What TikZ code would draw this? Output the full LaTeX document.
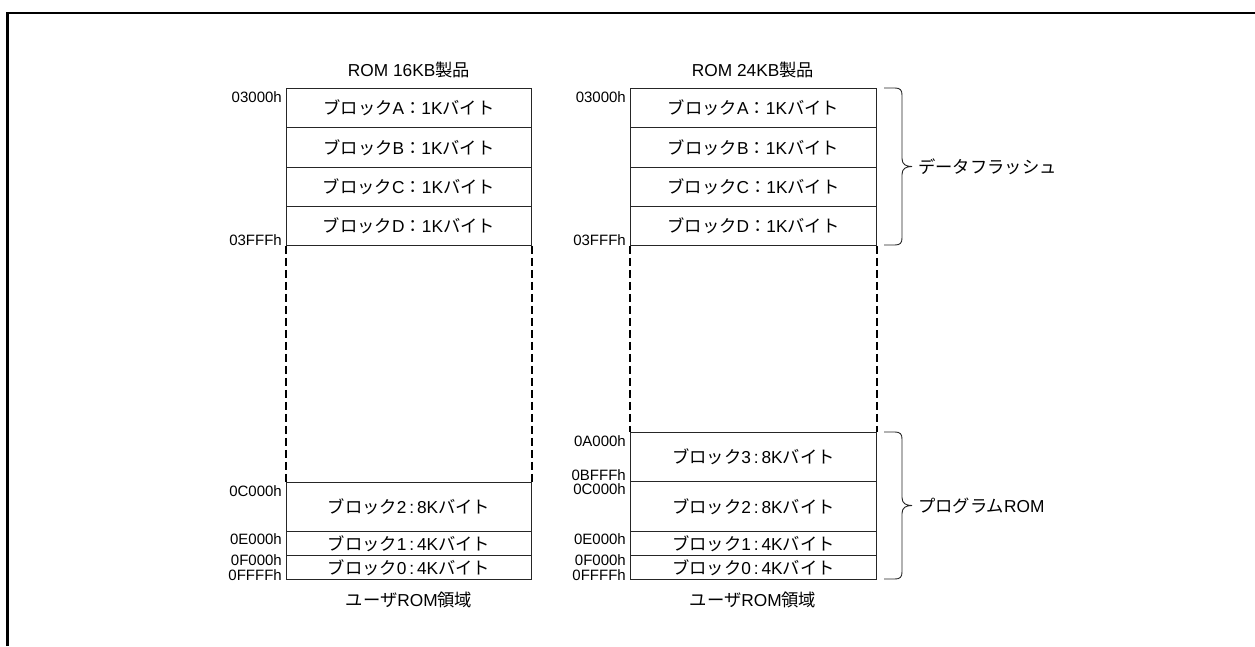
\documentclass[tikz,border=0pt]{standalone}
\usepackage{fontspec}
\setmainfont{Liberation Sans}
\newfontfamily\cjk{Noto Sans CJK JP}
\newcommand{\jp}[1]{{\cjk #1}}
\begin{document}
\begin{tikzpicture}[x=1pt,y=-1pt,
  cell/.style={draw=black!85, line width=0.9pt, inner sep=0pt, anchor=north west, font=\fontsize{17.3}{20}\selectfont},
  lcell/.style={cell, minimum width=245pt},
  rcell/.style={cell, minimum width=246pt},
  addr/.style={inner sep=0pt, font=\fontsize{15}{17}\selectfont},
  lbl/.style={inner sep=0pt, font=\fontsize{17.3}{20}\selectfont},
  dashline/.style={line width=1.8pt, dash pattern=on 8pt off 4pt},
  bracel/.style={line width=0.9pt, draw=black!85}]
\useasboundingbox[fill=white] (0,0) rectangle (1255,646);
\draw[line width=2.8pt] (7.5,646) -- (7.5,13) -- (1255,13);
% ---------- left column ----------
\node[lbl] (t1) at (409,70) {ROM 16KB\jp{製品}};
\node[lcell, minimum height=39.25pt] (la) at (286,88) {\jp{ブロック}A\jp{：}1K\jp{バイト}};
\node[lcell, minimum height=39.25pt] (lb) at (286,127.25) {\jp{ブロック}B\jp{：}1K\jp{バイト}};
\node[lcell, minimum height=39.25pt] (lc) at (286,166.5) {\jp{ブロック}C\jp{：}1K\jp{バイト}};
\node[lcell, minimum height=39.25pt] (ld) at (286,205.75) {\jp{ブロック}D\jp{：}1K\jp{バイト}};
\node[lcell, minimum height=49pt] (l2) at (286,482) {\jp{ブロック}2\,:\,8K\jp{バイト}};
\node[lcell, minimum height=24pt] (l1) at (286,531) {\jp{ブロック}1\,:\,4K\jp{バイト}};
\node[lcell, minimum height=24pt] (l0) at (286,555) {\jp{ブロック}0\,:\,4K\jp{バイト}};
\draw[dashline] (ld.south west) -- (l2.north west);
\draw[dashline] (ld.south east) -- (l2.north east);
\node[lbl] (u1) at (409,600) {\jp{ユーザ}ROM\jp{領域}};
\node[addr, anchor=north east] (la1) at ([xshift=-4pt,yshift=-3pt]la.north west) {03000h};
\node[addr, anchor=base east] (ld1) at ([xshift=-4pt]ld.south west) {03FFFh};
\node[addr, anchor=north east] (l21) at ([xshift=-4pt,yshift=-3pt]l2.north west) {0C000h};
\node[addr, anchor=north east] (l11) at ([xshift=-4pt,yshift=-2pt]l1.north west) {0E000h};
\node[addr, anchor=north east] (l01) at ([xshift=-4pt,yshift=0.5pt]l0.north west) {0F000h};
\node[addr, anchor=base east] (l02) at ([xshift=-4pt,yshift=-0.5pt]l0.south west) {0FFFFh};
% ---------- right column ----------
\node[lbl] (t2) at (753,70) {ROM 24KB\jp{製品}};
\node[rcell, minimum height=39.25pt] (ra) at (630,88) {\jp{ブロック}A\jp{：}1K\jp{バイト}};
\node[rcell, minimum height=39.25pt] (rb) at (630,127.25) {\jp{ブロック}B\jp{：}1K\jp{バイト}};
\node[rcell, minimum height=39.25pt] (rc) at (630,166.5) {\jp{ブロック}C\jp{：}1K\jp{バイト}};
\node[rcell, minimum height=39.25pt] (rd) at (630,205.75) {\jp{ブロック}D\jp{：}1K\jp{バイト}};
\node[rcell, minimum height=49pt] (r3) at (630,432) {\jp{ブロック}3\,:\,8K\jp{バイト}};
\node[rcell, minimum height=50pt] (r2) at (630,481) {\jp{ブロック}2\,:\,8K\jp{バイト}};
\node[rcell, minimum height=24pt] (r1) at (630,531) {\jp{ブロック}1\,:\,4K\jp{バイト}};
\node[rcell, minimum height=24pt] (r0) at (630,555) {\jp{ブロック}0\,:\,4K\jp{バイト}};
\draw[dashline] (rd.south west) -- (r3.north west);
\draw[dashline] (rd.south east) -- (r3.north east);
\node[lbl] (u2) at (753,600) {\jp{ユーザ}ROM\jp{領域}};
\node[addr, anchor=north east] (ra1) at ([xshift=-4pt,yshift=-3pt]ra.north west) {03000h};
\node[addr, anchor=base east] (rd1) at ([xshift=-4pt]rd.south west) {03FFFh};
\node[addr, anchor=north east] (r31) at ([xshift=-4pt,yshift=-3pt]r3.north west) {0A000h};
\node[addr, anchor=base east] (r32) at ([xshift=-4pt,yshift=1.5pt]r3.south west) {0BFFFh};
\node[addr, anchor=north east] (r21) at ([xshift=-4pt,yshift=-2.5pt]r2.north west) {0C000h};
\node[addr, anchor=north east] (r11) at ([xshift=-4pt,yshift=-2pt]r1.north west) {0E000h};
\node[addr, anchor=north east] (r01) at ([xshift=-4pt,yshift=0.5pt]r0.north west) {0F000h};
\node[addr, anchor=base east] (r02) at ([xshift=-4pt,yshift=-0.5pt]r0.south west) {0FFFFh};
% ---------- braces ----------
\draw[bracel] (884,88) -- (895,88) .. controls (900,88) and (902,90) .. (902,95)
  -- (902,158.5) .. controls (902,164.5) and (906,166.5) .. (912,166.5)
  .. controls (906,166.5) and (902,168.5) .. (902,174.5)
  -- (902,238) .. controls (902,243) and (900,245) .. (895,245) -- (884,245);
\node[lbl, anchor=west] (df) at (918,166.5) {\jp{データフラッシュ}};
\draw[bracel] (884,432) -- (895,432) .. controls (900,432) and (902,434) .. (902,439)
  -- (902,497.5) .. controls (902,503.5) and (906,505.5) .. (912,505.5)
  .. controls (906,505.5) and (902,507.5) .. (902,513.5)
  -- (902,572) .. controls (902,577) and (900,579) .. (895,579) -- (884,579);
\node[lbl, anchor=west] (pr) at (918,505.5) {\jp{プログラム}ROM};
\end{tikzpicture}
\end{document}
